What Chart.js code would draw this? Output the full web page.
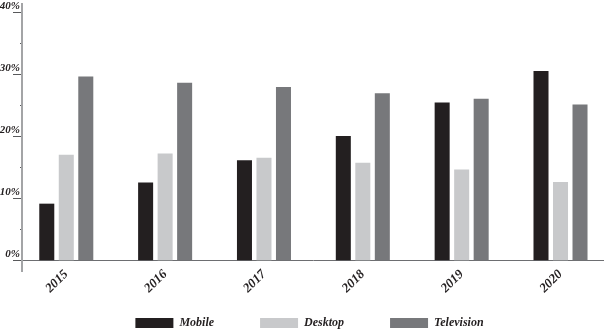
<!DOCTYPE html>
<html>
<head>
<meta charset="utf-8">
<title>Share of media time by device, 2015–2020</title>
<script src="https://cdn.jsdelivr.net/npm/chart.js@4/dist/chart.umd.min.js"></script>
<style>
  html, body { margin: 0; padding: 0; background: #ffffff; }
  #wrap { width: 604px; height: 331px; }
</style>
</head>
<body>
<div id="wrap"><canvas id="chart" width="604" height="331"></canvas></div>
<script>
// Years shown on the horizontal axis
const years = [2015, 2016, 2017, 2018, 2019, 2020];

// Share per device, in percent
const mobile = [9.2, 12.6, 16.2, 20.1, 25.5, 30.6];
const desktop = [17.1, 17.3, 16.6, 15.8, 14.7, 12.7];
const television = [29.7, 28.7, 28.0, 27.0, 26.1, 25.2];

// Labelled ticks and the short intermediate ticks on the value axis
const yMajorTicks = [0, 10, 20, 30, 40];
const yMinorTicks = [5, 15, 25, 35];

const serifBoldItalic = (size) => ({
  family: "'Liberation Serif', 'Times New Roman', serif",
  size: size,
  style: 'italic',
  weight: 'bold'
});

const toPoints = (values) => values.map((v, i) => ({ x: years[i], y: v }));

// Axis ranges: the value axis runs a little below zero so its line
// continues under the baseline; the year axis leaves room on both sides.
const Y_MIN = -1.66;
const Y_MAX = 41.4;
const X_MIN = 2014.552;
const X_MAX = 2020.44;

new Chart(document.getElementById('chart'), {
  type: 'bar',
  data: {
    datasets: [
      { label: 'Mobile', data: toPoints(mobile), backgroundColor: '#231f20' },
      { label: 'Desktop', data: toPoints(desktop), backgroundColor: '#c8c9cb' },
      { label: 'Television', data: toPoints(television), backgroundColor: '#77787b' }
    ]
  },
  options: {
    responsive: false,
    animation: false,
    devicePixelRatio: 1,
    categoryPercentage: 0.592,
    barPercentage: 0.77,
    layout: { padding: { left: 0, top: 4, right: -15, bottom: 0 } },
    plugins: {
      tooltip: { enabled: false },
      title: { display: false },
      legend: {
        position: 'bottom',
        maxHeight: 60,
        labels: {
          boxWidth: 38,
          boxHeight: 10,
          padding: 46,
          color: '#231f20',
          font: serifBoldItalic(12)
        }
      }
    },
    scales: {
      x: {
        type: 'linear',
        position: { y: 0 },
        offset: false,
        bounds: 'data',
        grace: 0,
        min: X_MIN,
        max: X_MAX,
        afterBuildTicks: (s) => { s.ticks = years.map(v => ({ value: v })); },
        afterFit: (s) => { s.paddingLeft = 0; s.paddingRight = 0; s.paddingTop = 0; s.paddingBottom = 0; },
        grid: { display: false, drawTicks: false },
        border: { display: true, color: '#6d6e71', width: 1 },
        ticks: {
          includeBounds: false,
          autoSkip: false,
          minRotation: 45,
          maxRotation: 45,
          padding: 6,
          color: '#231f20',
          font: serifBoldItalic(13),
          callback: (v) => String(v)
        }
      },
      y: {
        type: 'linear',
        position: 'left',
        weight: 1,
        min: Y_MIN,
        max: Y_MAX,
        afterBuildTicks: (s) => { s.ticks = yMajorTicks.map(v => ({ value: v })); },
        afterFit: (s) => { s.width = 22; s.paddingTop = 0; s.paddingBottom = 0; },
        grid: { display: true, drawOnChartArea: false, drawTicks: true, tickLength: 9, color: '#58595b', lineWidth: 1 },
        border: { display: true, color: '#a3a4a6', width: 2 },
        ticks: {
          padding: -7,
          labelOffset: -7,
          color: '#231f20',
          font: serifBoldItalic(11),
          callback: (v) => v + '%'
        }
      },
      yMinor: {
        type: 'linear',
        position: 'left',
        weight: 0,
        min: Y_MIN,
        max: Y_MAX,
        afterBuildTicks: (s) => { s.ticks = yMinorTicks.map(v => ({ value: v })); },
        afterFit: (s) => { s.width = 0; s.paddingTop = 0; s.paddingBottom = 0; },
        grid: { display: true, drawOnChartArea: false, drawTicks: true, tickLength: 2, color: '#58595b', lineWidth: 1 },
        border: { display: false },
        ticks: { display: false }
      }
    }
  }
});
</script>
</body>
</html>
